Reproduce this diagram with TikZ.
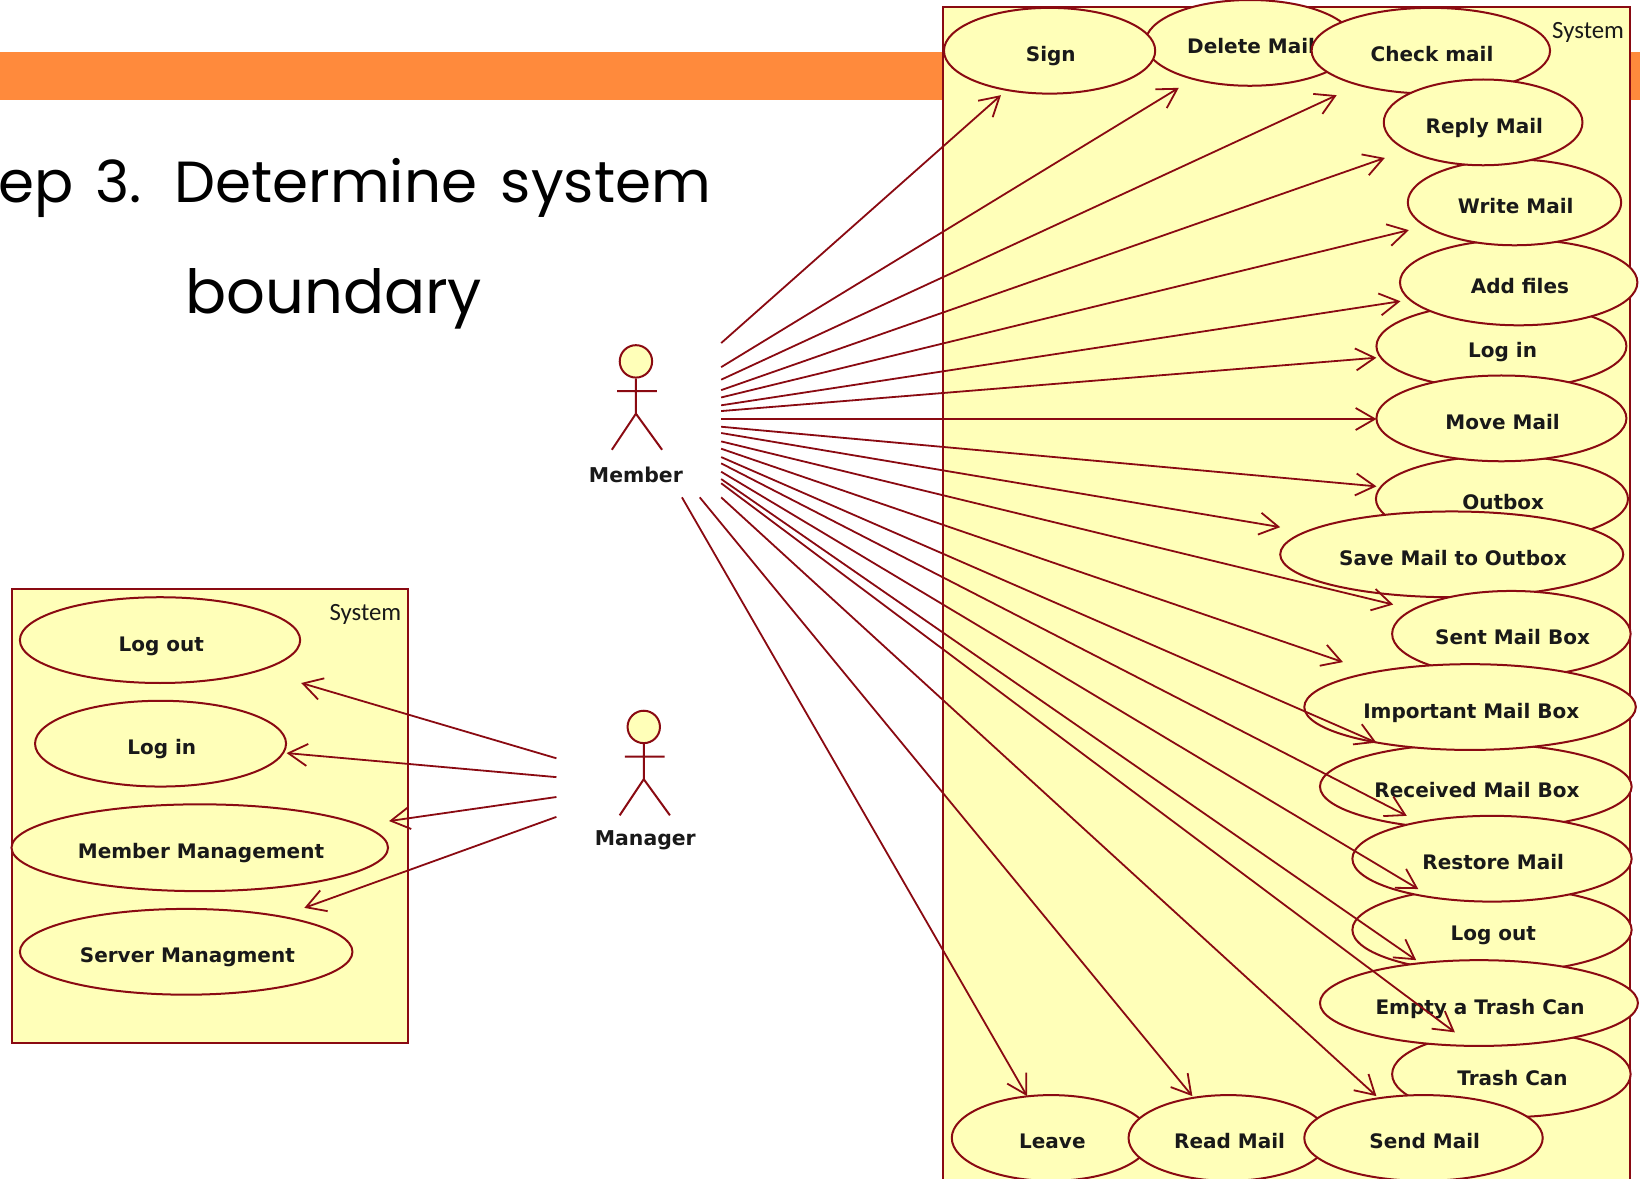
\documentclass[tikz,border=0pt]{standalone}
\usepackage{fontspec}
\usetikzlibrary{shapes.geometric,arrows.meta}
\setmainfont{DejaVu Sans}[BoldFont={DejaVu Sans Bold}]
\newfontfamily\titlefont{Poppins}
\newfontfamily\sysfont{Carlito}
\definecolor{umlline}{HTML}{8A0A12}
\definecolor{umlfill}{HTML}{FFFFB9}
\definecolor{barorange}{HTML}{FF8A3C}
\tikzset{
  usecase/.style={ellipse,draw=umlline,fill=umlfill,line width=1pt,inner sep=0pt,outer sep=0pt,font=\bfseries\fontsize{10}{12}\selectfont,text=black!90},
  sysbox/.style={rectangle,draw=umlline,fill=umlfill,line width=1pt,inner sep=0pt,outer sep=0pt},
  syslabel/.style={font=\sysfont\fontsize{12.4}{14}\selectfont,anchor=east,inner sep=0pt,text=black!90},
  flow/.style={draw=umlline,line width=0.9pt,-{Straight Barb[length=9.5pt,width=11pt,line width=0.9pt]}},
  actorhead/.style={circle,draw=umlline,fill=umlfill,line width=1pt,inner sep=0pt,minimum size=16.2pt},
  actorline/.style={draw=umlline,line width=1pt},
  actorname/.style={font=\bfseries\fontsize{10.2}{12}\selectfont,inner sep=0pt,text=black!90},
  titletext/.style={font=\titlefont\fontsize{29}{36}\selectfont,inner sep=0pt,text=black}
}
\newcommand{\ucnode}[6]{\node[usecase,minimum width=2*#4*0.523pt,minimum height=2*#5*0.523pt] (#1) at (#2,#3) {\hspace*{1.2pt}\raisebox{-5.5pt}[0pt][0pt]{#6}};}
\newcommand{\flowline}[5]{\coordinate (#1a) at (#2,#3); \coordinate (#1b) at (#4,#5); \draw[flow] (#1a) -- (#1b);}
\begin{document}
\begin{tikzpicture}[x=0.523pt,y=-0.523pt]
\useasboundingbox (0,0) rectangle (1568,1127.2);
\clip (0,0) rectangle (1568,1127.2);
\fill[white] (0,0) rectangle (1568,1127.2);
\fill[barorange] (0,50) rectangle (1568,96);
\node[titletext,anchor=base east] (title1) at (680,194) {ep\hspace{3pt} 3.\hspace{6pt} Determine\hspace{4pt} system};
\node[titletext,font=\titlefont\fontsize{30.4}{36}\selectfont,anchor=base] (title2) at (319,300) {boundary};

% right system
\node[sysbox,minimum width=656*0.523pt,minimum height=1200*0.523pt,anchor=north west] (sysR) at (902,7) {};
\node[syslabel] (sysRl) at (1553,31) {System};
\ucnode{delete}{1195}{41}{100}{41}{Delete Mail}
\ucnode{sign}{1003.5}{48.5}{101}{41}{Sign}
\ucnode{check}{1368}{48.5}{114}{41}{Check mail}
\ucnode{login}{1435.5}{331}{119.5}{41}{Log in}
\ucnode{add}{1452}{270}{113.5}{41}{Add files}
\ucnode{write}{1448}{193.5}{102}{41}{Write Mail}
\ucnode{reply}{1418}{117}{95}{41}{Reply Mail}
\ucnode{outbox}{1436}{477}{120.5}{41}{Outbox}
\ucnode{move}{1435.5}{400}{119.5}{41}{Move Mail}
\ucnode{save}{1388}{530}{164}{41}{Save Mail to Outbox}
\ucnode{sent}{1445}{606}{114}{41}{Sent Mail Box}
\ucnode{received}{1411}{752}{149}{41}{Received Mail Box}
\ucnode{important}{1405.5}{676}{158.5}{41}{Important Mail Box}
\ucnode{logoutR}{1426.5}{889}{133.5}{41}{Log out}
\ucnode{restore}{1426.5}{821}{133.5}{41}{Restore Mail}
\ucnode{trash}{1445}{1027}{114}{41}{Trash Can}
\ucnode{empty}{1414}{959}{152}{41}{Empty a Trash Can}
\ucnode{leave}{1005}{1088}{95}{41}{Leave}
\ucnode{read}{1174.5}{1088}{95.5}{41}{Read Mail}
\ucnode{send}{1361}{1088}{114}{41}{Send Mail}

% left system
\node[sysbox,minimum width=379*0.523pt,minimum height=434*0.523pt,anchor=north west] (sysL) at (11,563) {};
\node[syslabel] (sysLl) at (384,587) {System};
\ucnode{logoutL}{153}{612}{134}{41}{Log out}
\ucnode{loginL}{153.5}{711}{120}{41}{Log in}
\ucnode{member}{191}{810.5}{180}{41.5}{Member Management}
\ucnode{server}{178}{910}{159}{41}{Server Managment}

% actors
\node[actorhead] (mhead) at (608,345.5) {};
\coordinate (mhip) at (608,395.5);
\coordinate (marmL) at (590,374); \coordinate (marmR) at (628,374);
\coordinate (mfootL) at (585,430); \coordinate (mfootR) at (633,430);
\draw[actorline] (mhead.south) -- (mhip) (marmL) -- (marmR) (mfootL) -- (mhip) -- (mfootR);
\node[actorname] (mname) at (608,454) {Member};
\node[actorhead] (ghead) at (615.5,695) {};
\coordinate (ghip) at (615.5,745);
\coordinate (garmL) at (597.5,723.5); \coordinate (garmR) at (635.5,723.5);
\coordinate (gfootL) at (592.5,779.5); \coordinate (gfootR) at (640.5,779.5);
\draw[actorline] (ghead.south) -- (ghip) (garmL) -- (garmR) (gfootL) -- (ghip) -- (gfootR);
\node[actorname] (gname) at (617,803.5) {Manager};

% member connectors
\flowline{f1}{689.5}{328}{957}{91}
\flowline{f2}{689.5}{351}{1127}{84}
\flowline{f3}{689.5}{363}{1278}{91}
\flowline{f4}{689.5}{373}{1324}{151}
\flowline{f5}{689.5}{380}{1347}{220}
\flowline{f6}{689.5}{387.5}{1339}{288}
\flowline{f7}{689.5}{393}{1316}{342}
\flowline{f8}{689.5}{400.6}{1316}{400.6}
\flowline{f9}{689.5}{408}{1316}{465}
\flowline{f10}{689.5}{414}{1224}{504}
\flowline{f11}{689.5}{422}{1332}{578}
\flowline{f12}{689.5}{429}{1284}{633}
\flowline{f13}{689.5}{437}{1316}{710}
\flowline{f14}{689.5}{443}{1345}{780}
\flowline{f15}{689.5}{451}{1356}{850}
\flowline{f16}{689.5}{458}{1354}{918}
\flowline{f17}{689.5}{462}{1391}{987}
\flowline{f18}{689.5}{475.5}{1316}{1048}
\flowline{f19}{669}{475.5}{1140}{1048}
\flowline{f20}{652}{475.5}{982}{1048}

% manager connectors
\flowline{g1}{532}{725}{288}{653}
\flowline{g2}{532}{743}{274}{720}
\flowline{g3}{532}{762}{372}{785}
\flowline{g4}{532}{781}{291}{868}
\end{tikzpicture}
\end{document}
